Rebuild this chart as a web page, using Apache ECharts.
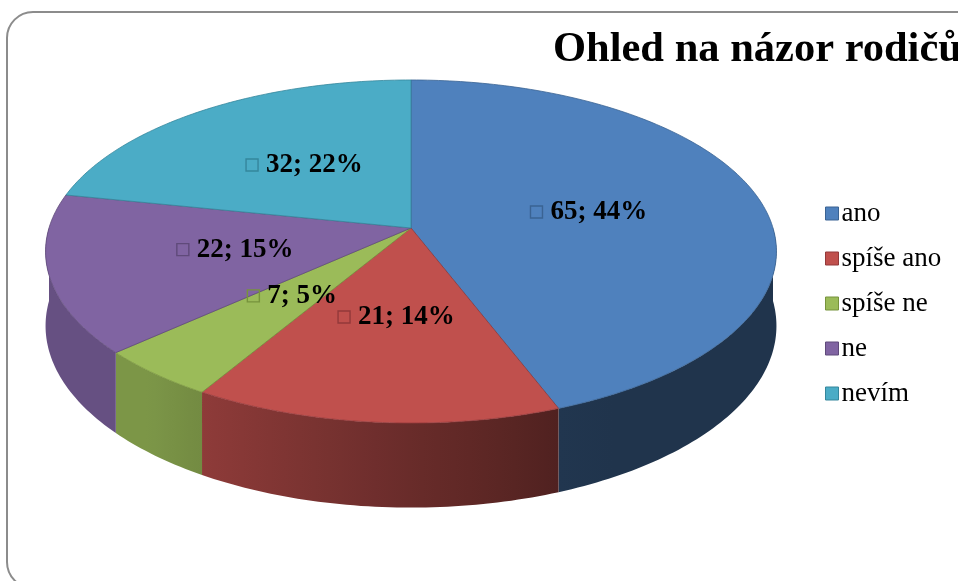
<!DOCTYPE html>
<html>
<head>
<meta charset="utf-8">
<script src="https://cdn.jsdelivr.net/npm/echarts@6/dist/echarts.min.js"></script>
<style>
  html, body { margin: 0; padding: 0; background: #fff; }
  #chart { width: 958px; height: 581px; }
</style>
</head>
<body>
<div id="chart"></div>
<script>
var categories = ['ano', 'spíše ano', 'spíše ne', 'ne', 'nevím'];
var values = [65, 21, 7, 22, 32];
var colors = ['#4f81bd', '#c0504d', '#9bbb59', '#8064a2', '#4bacc6'];
var edgeColors = ['#3a6393', '#93393a', '#77933c', '#5f4a7a', '#35869c'];

var total = values.reduce(function (a, b) { return a + b; }, 0);

// pie geometry (perspective ellipse)
var CX = 411, CY = 228, R = 362, RY = 168.3, K = 0.137, H = 73;

function proj(phi, r, drop) {
    var u = r * Math.sin(phi), v = r * Math.cos(phi);
    var w = 1 + K * v;
    return [CX + R * u / w, CY - RY * v / w + (drop || 0) / w];
}

function shade(hex, f) {
    var n = parseInt(hex.slice(1), 16);
    var r = Math.round(((n >> 16) & 255) * f);
    var g = Math.round(((n >> 8) & 255) * f);
    var b = Math.round((n & 255) * f);
    return 'rgb(' + r + ',' + g + ',' + b + ')';
}

function light(phi) {
    var d = phi * 180 / Math.PI;
    return Math.max(0.4, Math.min(0.8, 0.41 + (d - 158) * 0.0063));
}

function arc(a0, a1, drop) {
    var pts = [];
    var n = Math.max(2, Math.ceil(Math.abs(a1 - a0) / (Math.PI / 180)));
    for (var k = 0; k <= n; k++) {
        pts.push(proj(a0 + (a1 - a0) * k / n, 1, drop));
    }
    return pts;
}

function renderSlice(i, val) {
    var before = 0;
    for (var j = 0; j < i; j++) before += values[j];
    var a0 = before / total * Math.PI * 2;
    var a1 = (before + val) / total * Math.PI * 2;
    var children = [];

    // outer wall, only the front half is visible
    var w0 = Math.max(a0, Math.PI / 2), w1 = Math.min(a1, Math.PI * 1.5);
    if (w1 > w0) {
        var top = arc(w0, w1, 0);
        var bot = arc(w1, w0, H);
        var samples = [];
        for (var s = 0; s <= 8; s++) {
            var ph = w1 + (w0 - w1) * s / 8;
            samples.push({ x: proj(ph, 1)[0], c: shade(colors[i], light(ph)) });
        }
        var xs = samples.map(function (o) { return o.x; });
        var xl = Math.min.apply(null, xs), xr = Math.max.apply(null, xs);
        samples.sort(function (a, b) { return a.x - b.x; });
        var stops = samples.map(function (o) {
            return { offset: Math.max(0, Math.min(1, (o.x - xl) / (xr - xl))), color: o.c };
        });
        children.push({
            type: 'polygon',
            z2: 1,
            shape: { points: top.concat(bot) },
            style: {
                fill: new echarts.graphic.LinearGradient(xl, 0, xr, 0, stops, true),
                stroke: null
            }
        });
    }

    // top face
    children.push({
        type: 'polygon',
        z2: 10,
        shape: { points: [[CX, CY]].concat(arc(a0, a1, 0)) },
        style: { fill: colors[i], stroke: edgeColors[i], lineWidth: 0.8 }
    });

    // data label with legend key
    var mid = (a0 + a1) / 2;
    var p = proj(mid, 0.5, 0);
    var pct = Math.round(val / total * 100);
    children.push({
        type: 'text',
        z2: 20,
        x: p[0] + 2, y: p[1] - 1,
        style: {
            text: '{m|}{t|' + val + '; ' + pct + '%}',
            align: 'center',
            verticalAlign: 'middle',
            rich: {
                m: { width: 12, height: 12, borderColor: edgeColors[i], borderWidth: 1.4, verticalAlign: 'middle' },
                t: { fontFamily: 'Liberation Serif', fontWeight: 'bold', fontSize: 27, fill: '#000', padding: [0, 0, 0, 8], verticalAlign: 'middle' }
            }
        }
    });

    return { type: 'group', children: children };
}

var myChart = echarts.init(document.getElementById('chart'));

var option = {
    backgroundColor: '#fff',
    animation: false,
    title: {
        text: 'Ohled na názor rodičů',
        left: 548,
        top: 24,
        textStyle: { fontFamily: 'Liberation Serif', fontWeight: 'bold', fontSize: 42.5, color: '#000' }
    },
    legend: {
        orient: 'vertical',
        left: 820,
        top: 195,
        itemWidth: 13,
        itemHeight: 13,
        itemGap: 18,
        data: categories.map(function (c, i) {
            return { name: c, icon: 'rect', itemStyle: { color: colors[i], borderColor: edgeColors[i], borderWidth: 1 } };
        }),
        textStyle: { fontFamily: 'Liberation Serif', fontSize: 27, color: '#000', lineHeight: 27, padding: [0, 0, 0, -2] }
    },
    graphic: [{
        type: 'rect',
        silent: true,
        z: -10,
        shape: { x: 7, y: 12, width: 1000, height: 576, r: 26 },
        style: { fill: null, stroke: '#8c8c8c', lineWidth: 2 }
    }],
    series: categories.map(function (c, i) {
        return {
            type: 'custom',
            name: c,
            coordinateSystem: 'none',
            itemStyle: { color: colors[i] },
            data: [values[i]],
            renderItem: function (params, api) {
                return renderSlice(i, api.value(0));
            }
        };
    })
};

myChart.setOption(option);
</script>
</body>
</html>
